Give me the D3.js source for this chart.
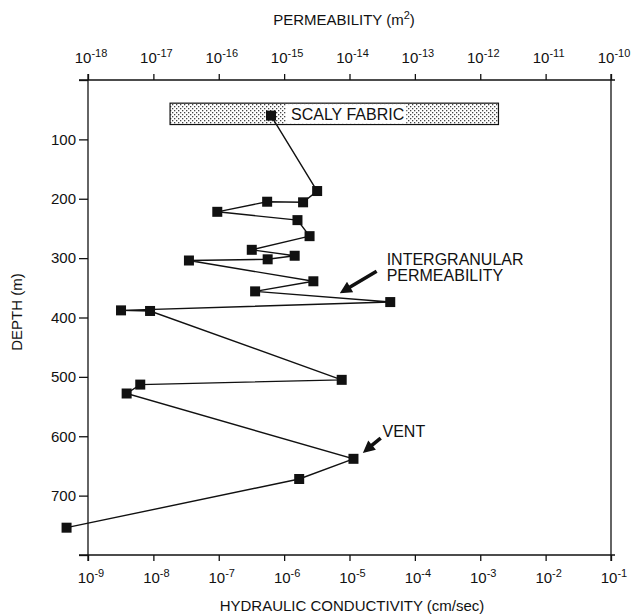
<!DOCTYPE html>
<html><head><meta charset="utf-8">
<script src="https://cdn.jsdelivr.net/npm/d3@7"></script>
<style>
html,body{margin:0;padding:0;background:#fff;}
text{font-family:"Liberation Sans",Arial,Helvetica,sans-serif;fill:#111;}
</style></head>
<body>
<svg id="chart" width="632" height="614"></svg>
<script>
// ---- data ----
const depths = [60, 187, 206, 205, 222, 236, 263, 286, 296, 302, 304, 339, 356, 374, 388, 389, 505, 513, 528, 638, 672, 754];
const conductivity = [6.3e-7, 3.2e-6, 1.95e-6, 5.5e-7, 9.5e-8, 1.6e-6, 2.45e-6, 3.2e-7, 1.45e-6, 5.6e-7, 3.5e-8, 2.8e-6, 3.6e-7, 4.2e-5, 3.2e-9, 8.9e-9, 7.6e-6, 6.3e-9, 3.9e-9, 1.15e-5, 1.7e-6, 4.7e-10];
const bottomTickExps = [-9, -8, -7, -6, -5, -4, -3, -2, -1];
const topTickExps = [-18, -17, -16, -15, -14, -13, -12, -11, -10];
const depthTicks = [0, 100, 200, 300, 400, 500, 600, 700, 800];
const depthLabels = [100, 200, 300, 400, 500, 600, 700];
const scalyK = [1.8e-8, 1.9e-3];
const scalyDepth = [39, 75];
const scalyLabel = "SCALY FABRIC";
const annoIntergranular = {lines: ["INTERGRANULAR", "PERMEABILITY"], k: 3.7e-5, d: [311, 338], tail: [2.6e-5, 322], tip: [7.1e-6, 359]};
const annoVent = {lines: ["VENT"], k: 3.2e-5, d: [601], tail: [3.0e-5, 603], tip: [1.6e-5, 628]};

// ---- layout ----
const L = 88, R = 611, T = 80, B = 555;
const svg = d3.select("#chart");
const x = d3.scaleLog().domain([1e-9, 1e-1]).range([L, R]);
const y = d3.scaleLinear().domain([0, 800]).range([T, B]);
const FS = 15, FA = 16;

// pattern
const defs = svg.append("defs");
const pat = defs.append("pattern").attr("id", "stip").attr("width", 4).attr("height", 4).attr("patternUnits", "userSpaceOnUse");
pat.append("rect").attr("width", 4).attr("height", 4).attr("fill", "#fff");
pat.append("rect").attr("x", 0).attr("y", 0).attr("width", 1.3).attr("height", 1.3).attr("fill", "#444");
pat.append("rect").attr("x", 2).attr("y", 2).attr("width", 1.3).attr("height", 1.3).attr("fill", "#444");

// frame lines (crossing corners)
const frame = svg.append("g").attr("stroke", "#111").attr("stroke-width", 1.3);
frame.append("line").attr("x1", L - 9).attr("x2", R + 4).attr("y1", T).attr("y2", T);
frame.append("line").attr("x1", L - 9).attr("x2", R + 4).attr("y1", B).attr("y2", B);
frame.append("line").attr("x1", L).attr("x2", L).attr("y1", T - 6).attr("y2", B + 6);
frame.append("line").attr("x1", R).attr("x2", R).attr("y1", T - 6).attr("y2", B + 6);

function supLabel(sel, exp) {
  sel.append("tspan").text("10");
  sel.append("tspan").attr("dy", -6).attr("font-size", 11).text("-" + Math.abs(exp));
}

// bottom axis
const bAxis = svg.append("g").attr("transform", `translate(0,${B})`)
  .call(d3.axisBottom(x).tickValues(bottomTickExps.map(e => Math.pow(10, e))).tickSize(6).tickSizeOuter(0).tickFormat(""));
bAxis.select(".domain").remove();
bAxis.selectAll(".tick line").attr("stroke", "#111").attr("stroke-width", 1.3);
bottomTickExps.forEach(e => {
  const t = svg.append("text").attr("x", x(Math.pow(10, e)) + 3).attr("y", 583).attr("text-anchor", "middle").attr("font-size", FS);
  supLabel(t, e);
});
svg.append("text").attr("x", 352).attr("y", 611).attr("text-anchor", "middle").attr("font-size", FS).text("HYDRAULIC CONDUCTIVITY (cm/sec)");

// top axis (permeability = conductivity scale shifted by 9 decades)
const xp = d3.scaleLog().domain([1e-18, 1e-10]).range([L, R]);
const tAxis = svg.append("g").attr("transform", `translate(0,${T})`)
  .call(d3.axisTop(xp).tickValues(topTickExps.map(e => Math.pow(10, e))).tickSize(6).tickSizeOuter(0).tickFormat(""));
tAxis.select(".domain").remove();
tAxis.selectAll(".tick line").attr("stroke", "#111").attr("stroke-width", 1.3);
topTickExps.forEach(e => {
  const t = svg.append("text").attr("x", xp(Math.pow(10, e)) + 3).attr("y", 63).attr("text-anchor", "middle").attr("font-size", FS);
  supLabel(t, e);
});
const tt = svg.append("text").attr("x", 344).attr("y", 25).attr("text-anchor", "middle").attr("font-size", FS);
tt.append("tspan").text("PERMEABILITY (m");
tt.append("tspan").attr("dy", -6).attr("font-size", 11).text("2");
tt.append("tspan").attr("dy", 6).text(")");

// left axis
const lAxis = svg.append("g").attr("transform", `translate(${L},0)`)
  .call(d3.axisLeft(y).tickValues(depthTicks).tickSize(9).tickSizeOuter(0)
    .tickFormat(d => depthLabels.includes(d) ? d : ""));
lAxis.select(".domain").remove();
lAxis.selectAll(".tick line").attr("stroke", "#111").attr("stroke-width", 1.3);
lAxis.selectAll(".tick text").attr("font-size", FS).attr("fill", "#111").attr("x", -12)
  .attr("font-family", "Liberation Sans, Arial, sans-serif");
svg.append("text").attr("transform", `translate(22,312) rotate(-90)`).attr("text-anchor", "middle").attr("font-size", FS).text("DEPTH (m)");

// scaly fabric box
svg.append("rect").attr("x", x(scalyK[0])).attr("y", y(scalyDepth[0]))
  .attr("width", x(scalyK[1]) - x(scalyK[0])).attr("height", y(scalyDepth[1]) - y(scalyDepth[0]))
  .attr("fill", "url(#stip)").attr("stroke", "#111").attr("stroke-width", 1.2);
const sl = svg.append("text").attr("x", 291).attr("y", y((scalyDepth[0] + scalyDepth[1]) / 2) + 6).attr("font-size", FA).text(scalyLabel);
const bb = sl.node().getBBox();
svg.insert("rect", () => sl.node()).attr("x", bb.x - 5).attr("y", y(scalyDepth[0]) + 1).attr("width", bb.width + 7).attr("height", y(scalyDepth[1]) - y(scalyDepth[0]) - 2).attr("fill", "#fff");

// data line and markers
const pts = depths.map((d, i) => ({d, k: conductivity[i]}));
svg.append("path").datum(pts)
  .attr("d", d3.line().x(p => x(p.k)).y(p => y(p.d)))
  .attr("fill", "none").attr("stroke", "#111").attr("stroke-width", 1.4);
const S = 10;
svg.selectAll("rect.pt").data(pts).enter().append("rect").attr("class", "pt")
  .attr("x", p => x(p.k) - S / 2).attr("y", p => y(p.d) - S / 2).attr("width", S).attr("height", S).attr("fill", "#111");

// annotations
function arrow(tail, tip) {
  const x0 = x(tail[0]), y0 = y(tail[1]), x1 = x(tip[0]), y1 = y(tip[1]);
  const dx = x1 - x0, dy = y1 - y0, len = Math.hypot(dx, dy);
  const ux = dx / len, uy = dy / len, nx = -uy, ny = ux;
  const hl = 12, hw = 6, sw = 1.8;
  const bx = x1 - ux * hl, by = y1 - uy * hl;
  const P = [
    [x0 + nx * sw, y0 + ny * sw], [bx + nx * sw, by + ny * sw], [bx + nx * hw, by + ny * hw], [x1, y1],
    [bx - nx * hw, by - ny * hw], [bx - nx * sw, by - ny * sw], [x0 - nx * sw, y0 - ny * sw]
  ];
  svg.append("path").attr("d", "M" + P.map(p => p.join(",")).join("L") + "Z").attr("fill", "#111");
}
[annoIntergranular, annoVent].forEach(a => {
  a.lines.forEach((ln, i) => svg.append("text").attr("x", x(a.k)).attr("y", y(a.d[i])).attr("font-size", FA).text(ln));
  arrow(a.tail, a.tip);
});
</script>
</body></html>
